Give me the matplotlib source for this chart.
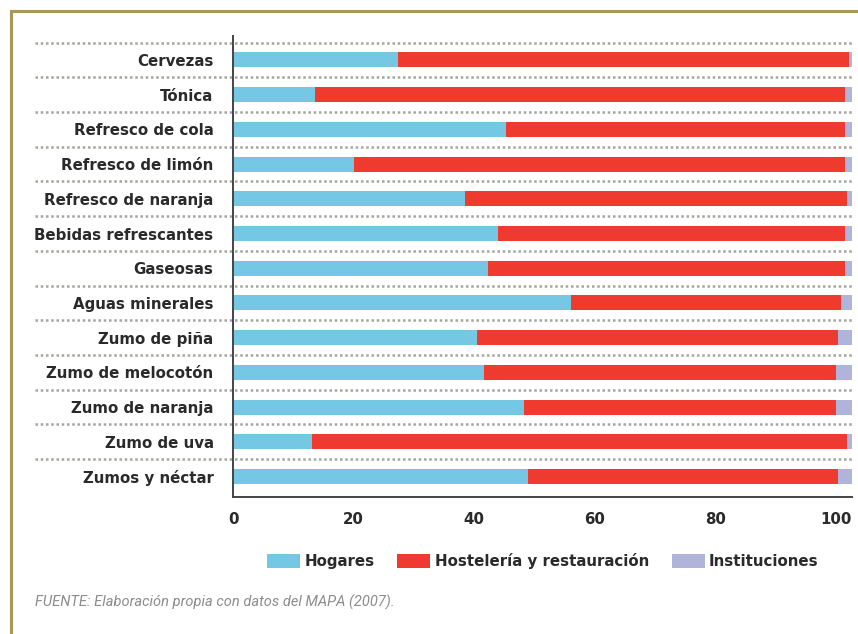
import matplotlib
matplotlib.use("Agg")
import matplotlib.pyplot as plt
from matplotlib.patches import Patch
from matplotlib.lines import Line2D
import matplotlib.transforms as mtransforms

categories = ["Cervezas", "Tónica", "Refresco de cola", "Refresco de limón",
              "Refresco de naranja", "Bebidas refrescantes", "Gaseosas",
              "Aguas minerales", "Zumo de piña", "Zumo de melocotón",
              "Zumo de naranja", "Zumo de uva", "Zumos y néctar"]
hogares = [27.4, 13.6, 45.3, 20.1, 38.5, 43.9, 42.3, 56.1, 40.5, 41.6, 48.3, 13.1, 48.9]
hosteleria = [74.8, 87.9, 56.2, 81.4, 63.3, 57.6, 59.2, 44.7, 59.8, 58.4, 51.7, 88.7, 51.4]
instituciones = [0.5, 1.2, 1.2, 1.2, 0.9, 1.2, 1.2, 1.9, 2.4, 2.7, 2.7, 0.9, 2.4]
series_names = ["Hogares", "Hostelería y restauración", "Instituciones"]
xticks = [0, 20, 40, 60, 80, 100]
source = "FUENTE: Elaboración propia con datos del MAPA (2007)."

colors = ["#75c8e4", "#ef3a30", "#b1b4da"]
FONT = "DejaVu Sans"
TEXT = "#2a2a2a"
FS = 10.8

fig = plt.figure(figsize=(8.58, 6.34), dpi=100)
ax = fig.add_axes([233/858, 1-497/634, 619/858, (497-36)/634])

ypos = list(range(len(categories)))
left = [0.0]*len(categories)
for vals, c, name in zip([hogares, hosteleria, instituciones], colors, series_names):
    ax.barh(ypos, vals, left=left, height=0.43, color=c, label=name, zorder=3)
    left = [l + v for l, v in zip(left, vals)]

ax.set_xlim(0, 102.65)
ax.set_ylim(len(categories) - 1 + 0.59, -0.69)

# dotted separators above each row
trans = mtransforms.blended_transform_factory(ax.transAxes, ax.transData)
for i in ypos:
    ax.add_line(Line2D([-(233-35)/619, 1], [i - 0.5, i - 0.5], transform=trans,
                       color="#a8a49e", lw=1.8, linestyle=(0, (1.0, 1.1)),
                       clip_on=False, zorder=1))

ax.set_yticks(ypos)
ax.set_yticklabels(categories, fontfamily=FONT, fontweight="bold",
                   fontsize=FS, color=TEXT)
ax.set_xticks(xticks)
ax.set_xticklabels([str(t) for t in xticks], fontfamily=FONT, fontweight="bold",
                   fontsize=FS, color=TEXT)
ax.tick_params(axis="y", length=0, pad=14)
ax.tick_params(axis="x", length=0, pad=10.5)

for s in ["top", "right"]:
    ax.spines[s].set_visible(False)
for s in ["left", "bottom"]:
    ax.spines[s].set_color("#444444")
    ax.spines[s].set_linewidth(1.4)
    ax.spines[s].set_zorder(4)

handles = [Patch(facecolor=c, edgecolor="none") for c in colors]
leg = fig.legend(handles, series_names, loc="center", bbox_to_anchor=(543/858, 1-561/634),
                 ncol=3, frameon=False, handlelength=2.2, handleheight=1.05,
                 handletextpad=0.3, columnspacing=1.5,
                 prop={"family": FONT, "weight": "bold", "size": FS})
for t in leg.get_texts():
    t.set_color(TEXT)

fig.text(35/858, 1-602/634, source, fontfamily="Roboto", fontstyle="italic",
         fontweight="normal", fontsize=10.5, color="#8c8c8c", va="center", ha="left")

# outer olive frame
frame_c = "#a8995a"
fig.add_artist(Line2D([11/858, 11/858], [0, 1-11/634], transform=fig.transFigure,
                      color=frame_c, lw=2.2))
fig.add_artist(Line2D([11/858, 1], [1-11/634, 1-11/634], transform=fig.transFigure,
                      color=frame_c, lw=2.2))

fig.savefig("out.png", dpi=100)
